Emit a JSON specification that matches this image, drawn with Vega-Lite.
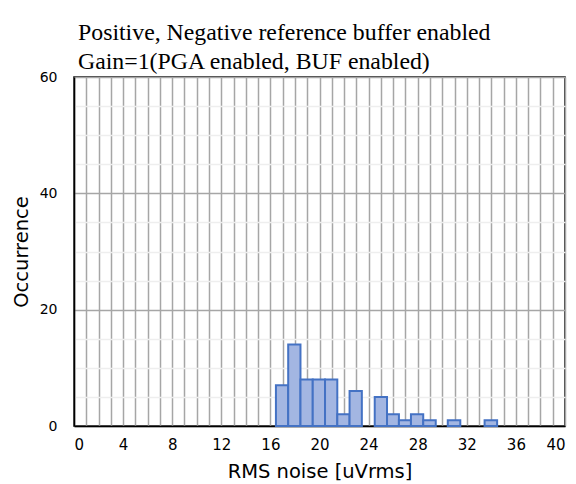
{
  "$schema": "https://vega.github.io/schema/vega-lite/v6.json",
  "autosize": {"type": "none"},
  "padding": {"left": 74, "top": 77, "right": 11, "bottom": 58},
  "width": 491,
  "height": 349,
  "background": "white",
  "title": {
    "text": ["Positive, Negative reference buffer enabled", "Gain=1(PGA enabled, BUF enabled)"],
    "anchor": "start",
    "frame": "group",
    "dx": 4,
    "offset": -4,
    "font": "Liberation Serif",
    "fontSize": 23.8,
    "fontWeight": "normal",
    "color": "#000000",
    "lineHeight": 29.5
  },
  "data": {
    "values": [
      {"noise": 17, "bin_start": 16.45, "bin_end": 17.45, "count": 7},
      {"noise": 18, "bin_start": 17.45, "bin_end": 18.45, "count": 14},
      {"noise": 19, "bin_start": 18.45, "bin_end": 19.45, "count": 8},
      {"noise": 20, "bin_start": 19.45, "bin_end": 20.45, "count": 8},
      {"noise": 21, "bin_start": 20.45, "bin_end": 21.45, "count": 8},
      {"noise": 22, "bin_start": 21.45, "bin_end": 22.45, "count": 2},
      {"noise": 23, "bin_start": 22.45, "bin_end": 23.45, "count": 6},
      {"noise": 25, "bin_start": 24.5, "bin_end": 25.5, "count": 5},
      {"noise": 26, "bin_start": 25.5, "bin_end": 26.47, "count": 2},
      {"noise": 27, "bin_start": 26.47, "bin_end": 27.45, "count": 1},
      {"noise": 28, "bin_start": 27.45, "bin_end": 28.45, "count": 2},
      {"noise": 29, "bin_start": 28.45, "bin_end": 29.47, "count": 1},
      {"noise": 31, "bin_start": 30.45, "bin_end": 31.47, "count": 1},
      {"noise": 34, "bin_start": 33.45, "bin_end": 34.47, "count": 1}
    ]
  },
  "mark": {"type": "bar", "fill": "#a3b6e2", "stroke": "#4472c4", "strokeWidth": 2},
  "encoding": {
    "x": {
      "field": "bin_start",
      "type": "quantitative",
      "scale": {"domain": [0, 40], "nice": false, "zero": false},
      "axis": {
        "title": "RMS noise [uVrms]",
        "values": [0,1,2,3,4,5,6,7,8,9,10,11,12,13,14,15,16,17,18,19,20,21,22,23,24,25,26,27,28,29,30,31,32,33,34,35,36,37,38,39,40],
        "labelExpr": "datum.value % 4 == 0 ? datum.label : ''",
        "grid": true,
        "gridColor": "#a6a6a6",
        "gridWidth": 1.5,
        "ticks": false,
        "domain": true,
        "domainColor": "#000000",
        "domainWidth": 1.5,
        "labelFont": "DejaVu Sans",
        "labelFontSize": 15,
        "labelColor": "#000000",
        "labelPadding": 11,
        "labelOverlap": false,
        "titleFont": "DejaVu Sans",
        "titleFontSize": 19.5,
        "titleFontWeight": "normal",
        "titleColor": "#000000",
        "titlePadding": 10
      }
    },
    "x2": {"field": "bin_end"},
    "y": {
      "field": "count",
      "type": "quantitative",
      "scale": {"domain": [0, 60], "nice": false},
      "axis": {
        "title": "Occurrence",
        "values": [0,5,10,15,20,25,30,35,40,45,50,55,60],
        "labelExpr": "datum.value % 20 == 0 ? datum.label : ''",
        "grid": true,
        "gridColor": {"condition": {"test": "datum.value % 20 == 0", "value": "#a6a6a6"}, "value": "#eeeeee"},
        "gridWidth": 1.5,
        "ticks": false,
        "domain": true,
        "domainColor": "#000000",
        "domainWidth": 1.5,
        "labelFont": "DejaVu Sans",
        "labelFontSize": 14,
        "labelColor": "#000000",
        "labelPadding": 17,
        "titleFont": "DejaVu Sans",
        "titleFontSize": 19.5,
        "titleFontWeight": "normal",
        "titleColor": "#000000",
        "titlePadding": 8
      }
    },
    "y2": {"datum": 0}
  },
  "config": {
    "view": {"stroke": "#000000", "strokeWidth": 1.5}
  }
}
